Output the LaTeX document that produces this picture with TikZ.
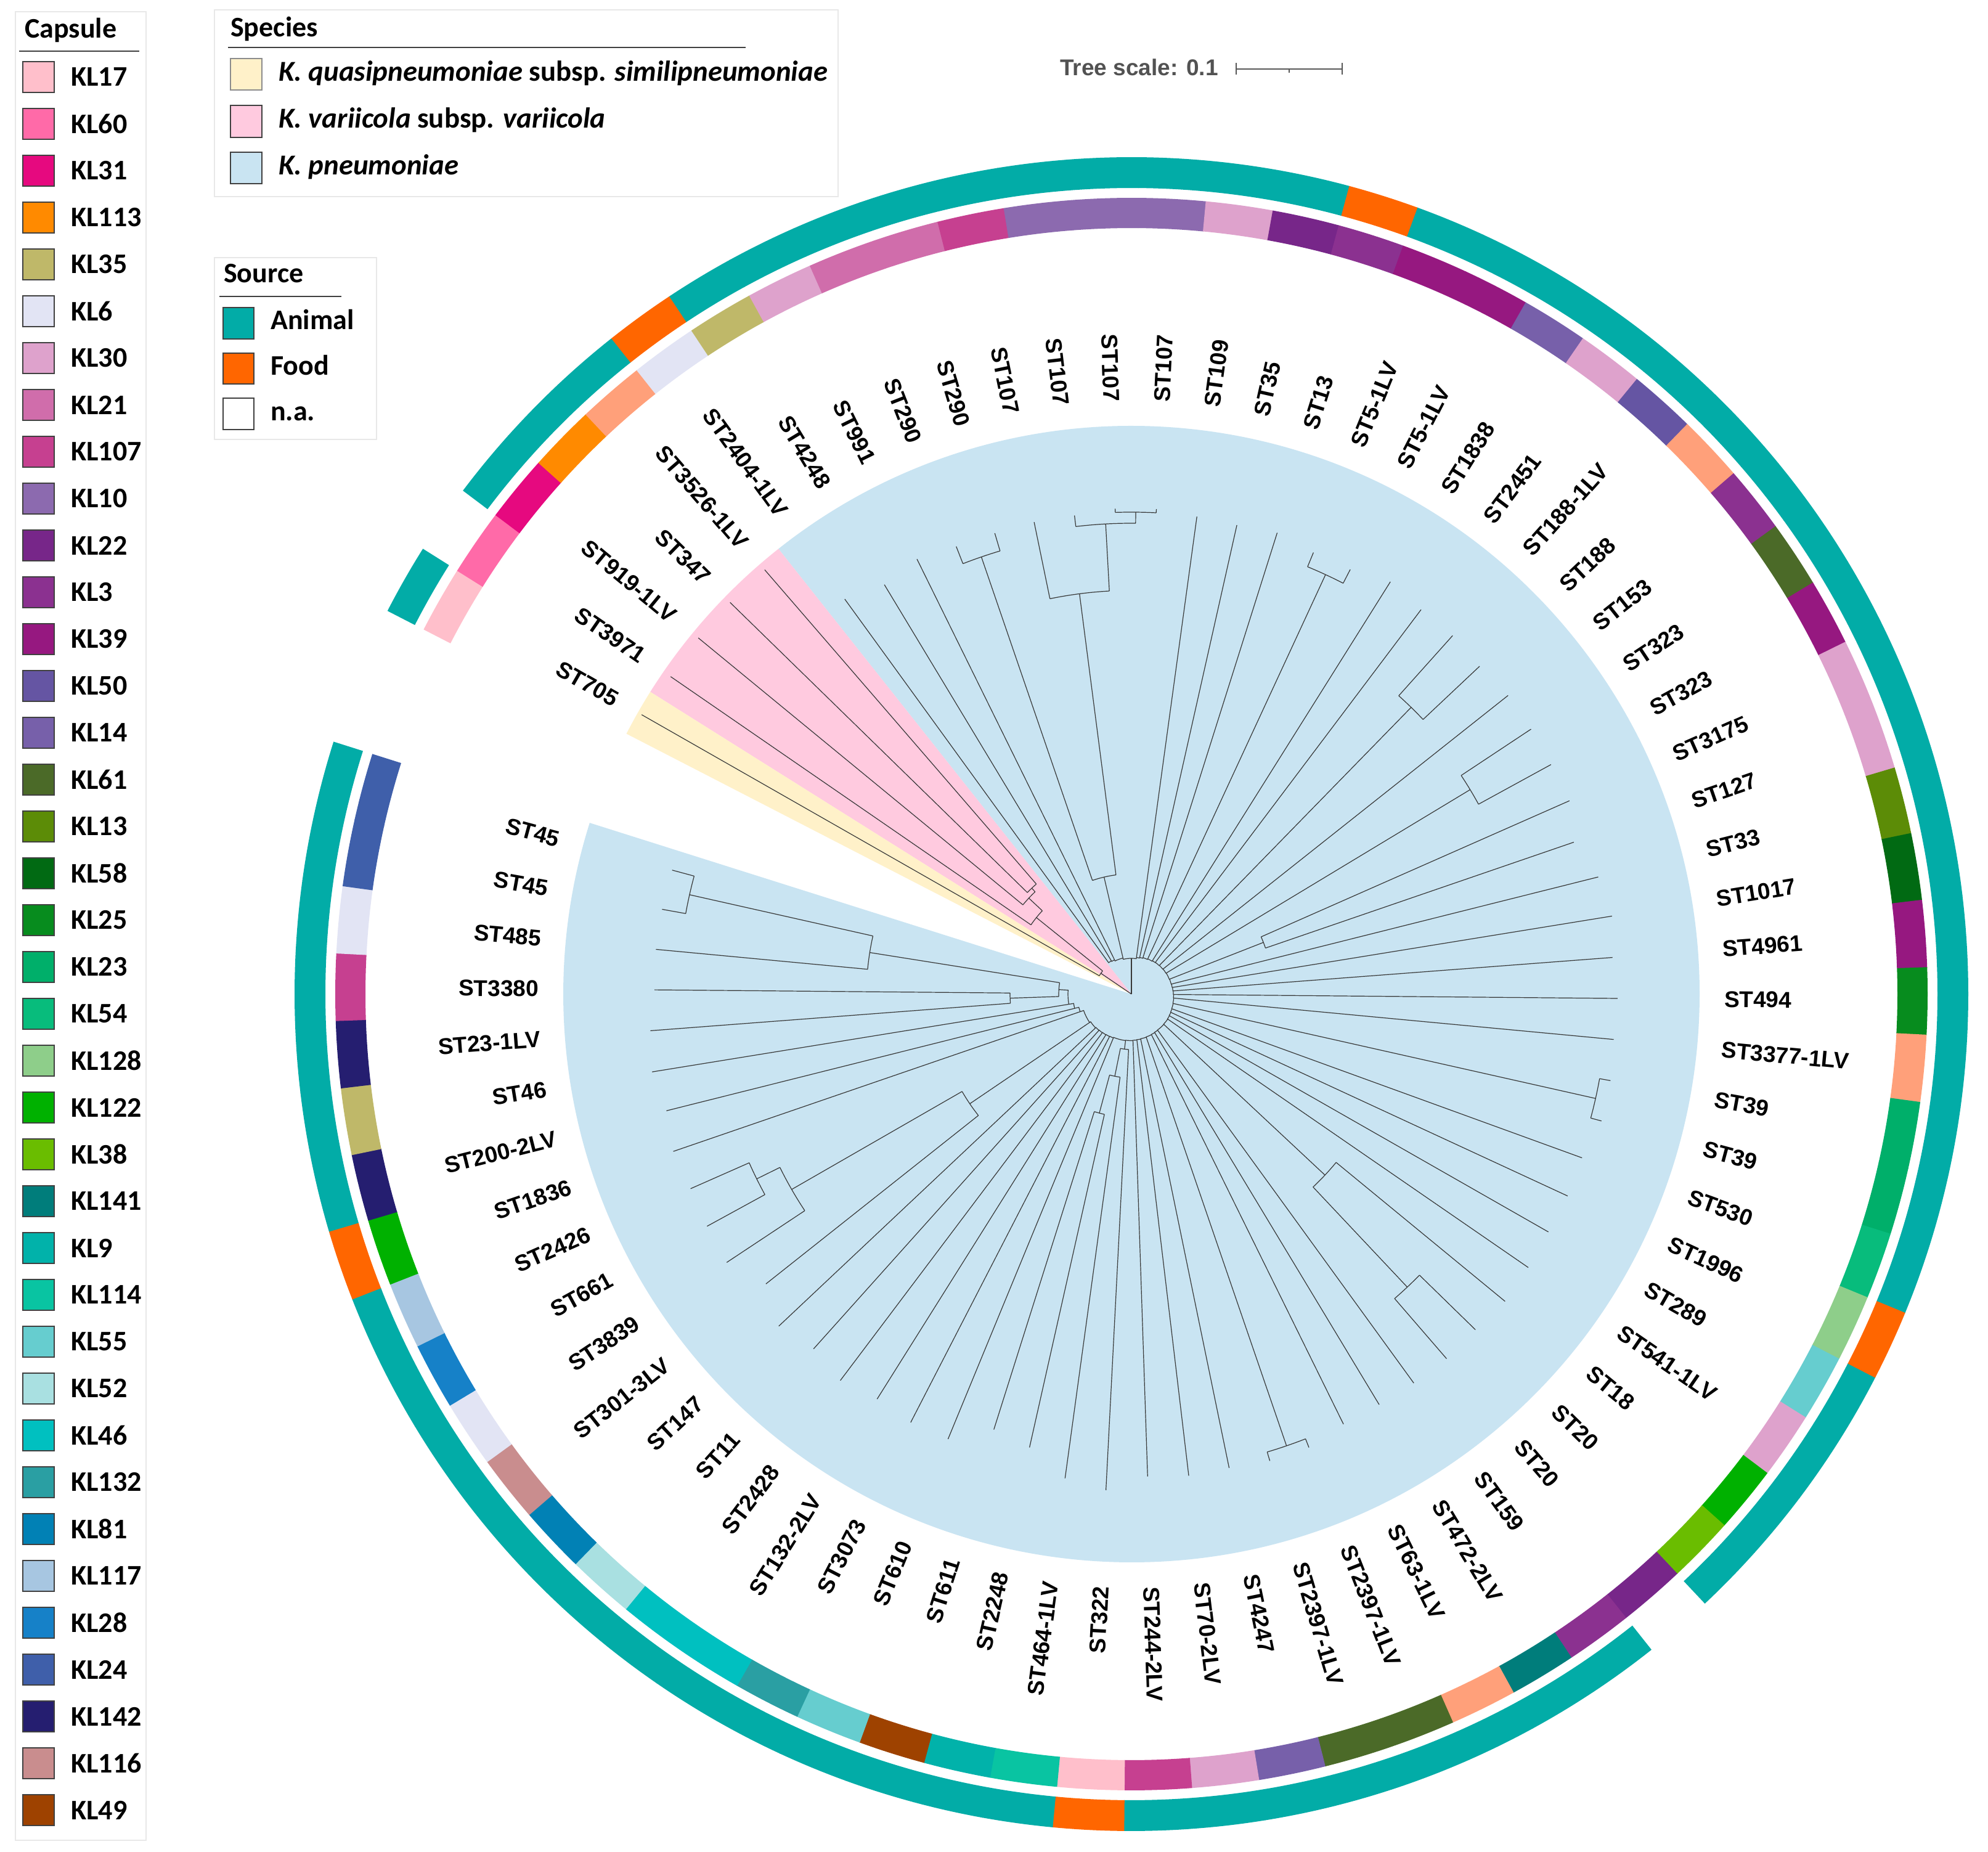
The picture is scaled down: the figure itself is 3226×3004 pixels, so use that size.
\documentclass[tikz,border=0pt]{standalone}
\usepackage{fontspec}
\usetikzlibrary{calc}
\newfontfamily\arialf{Liberation Sans}
\newfontfamily\calf{Carlito}
\definecolor{KL17}{HTML}{FFBFCB}
\definecolor{KL60}{HTML}{FF6AA8}
\definecolor{KL31}{HTML}{E6097F}
\definecolor{KL113}{HTML}{FF8A00}
\definecolor{KL35}{HTML}{BFB869}
\definecolor{KL6}{HTML}{E2E4F4}
\definecolor{KL30}{HTML}{DEA2CC}
\definecolor{KL21}{HTML}{D06DAB}
\definecolor{KL107}{HTML}{C64090}
\definecolor{KL10}{HTML}{8C6AAF}
\definecolor{KL22}{HTML}{772689}
\definecolor{KL3}{HTML}{8B3190}
\definecolor{KL39}{HTML}{961880}
\definecolor{KL50}{HTML}{6555A3}
\definecolor{KL14}{HTML}{7760AA}
\definecolor{KL61}{HTML}{4B6A28}
\definecolor{KL13}{HTML}{5C8C07}
\definecolor{KL58}{HTML}{016A13}
\definecolor{KL25}{HTML}{078C1E}
\definecolor{KL23}{HTML}{00AF6A}
\definecolor{KL54}{HTML}{08BC7C}
\definecolor{KL128}{HTML}{8ECE8A}
\definecolor{KL122}{HTML}{00B100}
\definecolor{KL38}{HTML}{6ABD00}
\definecolor{KL141}{HTML}{007D7B}
\definecolor{KL9}{HTML}{01B2AA}
\definecolor{KL114}{HTML}{09C4A2}
\definecolor{KL55}{HTML}{66CDCF}
\definecolor{KL52}{HTML}{A9E0E1}
\definecolor{KL46}{HTML}{00C0C0}
\definecolor{KL132}{HTML}{2A9FA3}
\definecolor{KL81}{HTML}{0181B5}
\definecolor{KL117}{HTML}{A7C6E1}
\definecolor{KL28}{HTML}{1681C8}
\definecolor{KL24}{HTML}{3F5FAA}
\definecolor{KL142}{HTML}{251E70}
\definecolor{KL116}{HTML}{C98D8E}
\definecolor{KL49}{HTML}{9E4200}
\definecolor{SAL}{HTML}{FFA07A}
\definecolor{ANI}{HTML}{02ACA7}
\definecolor{FOOD}{HTML}{FF6600}
\definecolor{SPQ}{HTML}{FFF1C9}
\definecolor{SPV}{HTML}{FFCADF}
\definecolor{SPP}{HTML}{C9E4F2}
\newcommand\tstem[3]{\pgfmathsetmacro\tmpa{150.3-(#1-1)*4.86486}\draw[treeline] (\tmpa:#2pt) -- (\tmpa:#3pt);}
\newcommand\tarc[3]{\pgfmathsetmacro\tmpa{150.3-(#1-1)*4.86486}\pgfmathsetmacro\tmpb{150.3-(#2-1)*4.86486}\draw[treeline] (\tmpa:#3pt) arc[start angle=\tmpa, end angle=\tmpb, radius=#3pt];}
\newcommand\ringseg[4]{\pgfmathsetmacro\tmpa{150.3-(#1-1)*4.86486+2.45}\pgfmathsetmacro\tmpb{150.3-(#1-1)*4.86486-2.45}\fill[#4] (\tmpa:#2pt) arc[start angle=\tmpa,end angle=\tmpb,radius=#2pt] -- (\tmpb:#3pt) arc[start angle=\tmpb,end angle=\tmpa,radius=#3pt] -- cycle;}
\begin{document}
\begin{tikzpicture}[x=1pt,y=1pt,
  treeline/.style={line width=1.2pt, draw=black!78},
  legbox/.style={draw=black!9, line width=2pt, fill=white},
  sw/.style={draw=black!75, line width=1.2pt},
  lab/.style={inner sep=0pt, font=\arialf\bfseries\fontsize{37}{44}\selectfont}]
\useasboundingbox (0,0) rectangle (3226,3004);
\fill[white] (0,0) rectangle (3226,3004);
\begin{scope}[shift={(1836,1391)}]
% species wedges
\fill[SPP] (0,0) -- (128.41:922pt) arc[start angle=128.41, end angle=-197.54, radius=922pt] -- cycle;
\fill[SPV] (0,0) -- (147.87:922pt) arc[start angle=147.87, end angle=128.41, radius=922pt] -- cycle;
\fill[SPQ] (0,0) -- (152.73:922pt) arc[start angle=152.73, end angle=147.87, radius=922pt] -- cycle;
% capsule ring
\foreach \n/\c in {1/KL17,2/KL60,3/KL31,4/KL113,5/SAL,6/KL6,7/KL35,8/KL30,9/KL21,10/KL21,11/KL107,12/KL10,13/KL10,14/KL10,15/KL30,16/KL22,17/KL3,18/KL39,19/KL39,20/KL14,21/KL30,22/KL50,23/SAL,24/KL3,25/KL61,26/KL39,27/KL30,28/KL30,29/KL13,30/KL58,31/KL39,32/KL25,33/SAL,34/KL23,35/KL23,36/KL54,37/KL128,38/KL55,39/KL30,40/KL122,41/KL38,42/KL22,43/KL3,44/KL141,45/SAL,46/KL61,47/KL61,48/KL14,49/KL30,50/KL107,51/KL17,52/KL114,53/KL9,54/KL49,55/KL55,56/KL132,57/KL46,58/KL46,59/KL52,60/KL81,61/KL116,62/KL6,63/KL28,64/KL117,65/KL122,66/KL142,67/KL35,68/KL142,69/KL107,70/KL6,71/KL24,72/KL24}{\ringseg{\n}{1243}{1292}{\c}}
% source ring
\foreach \n in {1,3,4,5,7,8,...,16,18,19,...,36,38,39,40,41,43,44,...,50,52,53,...,64,66,67,...,72}{\ringseg{\n}{1308}{1358}{ANI}}
\foreach \n in {6,17,37,51,65}{\ringseg{\n}{1308}{1358}{FOOD}}
% ---------- tree ----------
\tstem{1.9375}{0}{60}
\tarc{1}{2.875}{60}
\tstem{1}{60}{915}
\tstem{2.875}{60}{198}
\tarc{2}{3.75}{198}
\tstem{2}{198}{908}
\tstem{3.75}{198}{228}
\tarc{3}{4.5}{228}
\tstem{3}{228}{910}
\tstem{4.5}{228}{236}
\tarc{4}{5}{236}
\tstem{4}{236}{910}
\tstem{5}{236}{910}
\tstem{13.395}{0}{58}
\foreach \i/\r [remember=\i as \li (initially 13.395), remember=\r as \lr (initially 58)] in {10.6875/60, 8/62, 7/63, 6/64}{
  \pgfmathsetmacro\aa{150.3-(\li-1)*4.86486}
  \pgfmathsetmacro\ab{150.3-(\i-1)*4.86486}
  \draw[treeline] (\aa:\lr pt) arc[start angle=\aa, end angle=\ab, radius=\lr pt] -- (\ab:\r pt);
}
\foreach \i/\r [remember=\i as \li (initially 13.395), remember=\r as \lr (initially 58)] in {15/60, 16/61, 17/62, 18.5/63, 20/64, 21/64.5, 22.5/65, 24/65.5, 25.5/66, 27.5/66.5, 29/67, 30/67.5, 31/68, 32/68.5, 33/69, 34.5/69.5, 36/70, 37/70.5, 38/71, 39/71.5, 40.75/72, 43/72.5, 44/73, 45/73.5, 46.5/74, 48/74.5, 49/75, 50/75.5, 51.875/76, 55/77, 56/77.5, 57/78, 58/78.5, 59/79, 60/80, 61.875/82, 65/88, 66/95, 67/103, 69.625/112}{
  \pgfmathsetmacro\aa{150.3-(\li-1)*4.86486}
  \pgfmathsetmacro\ab{150.3-(\i-1)*4.86486}
  \draw[treeline] (\aa:\lr pt) arc[start angle=\aa, end angle=\ab, radius=\lr pt] -- (\ab:\r pt);
}
\tstem{10.6875}{60}{195}
\tarc{9.5}{11.875}{195}
\tstem{9.5}{195}{750}
\tarc{9}{10}{750}
\tstem{9}{750}{780}
\tstem{10}{750}{780}
\tstem{11.875}{195}{655}
\tarc{11}{12.75}{655}
\tstem{11}{655}{782}
\tstem{12.75}{655}{764}
\tarc{12}{13.5}{764}
\tstem{12}{764}{782}
\tstem{13.5}{764}{782}
\tarc{13}{14}{782}
\tstem{13}{782}{788}
\tstem{14}{782}{788}
\tstem{8}{62}{787}
\tstem{7}{63}{776}
\tstem{6}{64}{792}
\tstem{15}{60}{782}
\tstem{16}{61}{780}
\tstem{17}{62}{785}
\tstem{18.5}{63}{750}
\tarc{18}{19}{750}
\tstem{18}{750}{775}
\tstem{19}{750}{775}
\tstem{20}{64}{790}
\tstem{21}{64.5}{781}
\tstem{22.5}{65}{650}
\tarc{22}{23}{650}
\tstem{22}{650}{781}
\tstem{23}{650}{776}
\tstem{24}{65.5}{780}
\tstem{25.5}{66}{642}
\tarc{25}{26}{642}
\tstem{25}{642}{778}
\tstem{26}{642}{776}
\tstem{27.5}{66.5}{230}
\tarc{27}{28}{230}
\tstem{27}{230}{777}
\tstem{28}{230}{759}
\tstem{29}{67}{781}
\tstem{30}{67.5}{790}
\tstem{31}{68}{783}
\tstem{32}{68.5}{789}
\tstem{33}{69}{786}
\tstem{34.5}{69.5}{772}
\tarc{34}{35}{772}
\tstem{34}{772}{790}
\tstem{35}{772}{790}
\tstem{36}{70}{778}
\tstem{37}{70.5}{780}
\tstem{38}{71}{779}
\tstem{39}{71.5}{782}
\tstem{40.75}{72}{430}
\tarc{40}{41.5}{430}
\tstem{40}{430}{785}
\tstem{41.5}{430}{653}
\tarc{41}{42}{653}
\tstem{41}{653}{780}
\tstem{42}{653}{782}
\tstem{43}{72.5}{780}
\tstem{44}{73}{778}
\tstem{45}{73.5}{778}
\tstem{46.5}{74}{775}
\tarc{46}{47}{775}
\tstem{46}{775}{790}
\tstem{47}{775}{790}
\tstem{48}{74.5}{785}
\tstem{49}{75}{787}
\tstem{50}{75.5}{783}
\tstem{51.875}{76}{90}
\tarc{51}{52.75}{90}
\tstem{51}{90}{806}
\tstem{52.75}{90}{136}
\tarc{52}{53.5}{136}
\tstem{52}{136}{793}
\tstem{53.5}{136}{200}
\tarc{53}{54}{200}
\tstem{53}{200}{754}
\tstem{54}{200}{741}
\tstem{55}{77}{781}
\tstem{56}{77.5}{782}
\tstem{57}{78}{776}
\tstem{58}{78.5}{785}
\tstem{59}{79}{773}
\tstem{60}{80}{786}
\tstem{61.875}{82}{317}
\tarc{61}{62.75}{317}
\tstem{61}{317}{757}
\tstem{62.75}{317}{636}
\tarc{62}{63.5}{636}
\tstem{62}{636}{788}
\tstem{63.5}{636}{678}
\tarc{63}{64}{678}
\tstem{63}{678}{785}
\tstem{64}{678}{782}
\tstem{65}{88}{786}
\tstem{66}{95}{778}
\tstem{67}{103}{788}
\tstem{69.625}{112}{118}
\tarc{68.5}{70.75}{118}
\tstem{68.5}{118}{197}
\tarc{68}{69}{197}
\tstem{68}{197}{783}
\tstem{69}{197}{774}
\tstem{70.75}{118}{430}
\tarc{70}{71.5}{430}
\tstem{70}{430}{775}
\tstem{71.5}{430}{735}
\tarc{71}{72}{735}
\tstem{71}{735}{774}
\tstem{72}{735}{772}
% ---------- labels ----------
\foreach \n/\t in {1/ST705,2/ST3971,3/ST919-1LV,4/ST347,5/ST3526-1LV,6/ST2404-1LV,7/ST4248,8/ST991,9/ST290,10/ST290,11/ST107,12/ST107,13/ST107,14/ST107,15/ST109,16/ST35,17/ST13,18/ST5-1LV,19/ST5-1LV,20/ST1838,21/ST2451,22/ST188-1LV,23/ST188,24/ST153,25/ST323,26/ST323,27/ST3175,28/ST127,29/ST33,30/ST1017,31/ST4961,32/ST494,33/ST3377-1LV,34/ST39,35/ST39,36/ST530,37/ST1996,38/ST289,39/ST541-1LV,40/ST18,41/ST20,42/ST20,43/ST159,44/ST472-2LV,45/ST63-1LV,46/ST2397-1LV,47/ST2397-1LV,48/ST4247,49/ST70-2LV,50/ST244-2LV,51/ST322,52/ST464-1LV,53/ST2248,54/ST611,55/ST610,56/ST3073,57/ST132-2LV,58/ST2428,59/ST11,60/ST147,61/ST301-3LV,62/ST3839,63/ST661,64/ST2426,65/ST1836,66/ST200-2LV,67/ST46,68/ST23-1LV,69/ST3380,70/ST485,71/ST45,72/ST45}{
  \pgfmathsetmacro\a{150.3-(\n-1)*4.86486}
  \pgfmathsetmacro\b{\a+180}
  \pgfmathtruncatemacro\isl{(\a > 90) || (\a < -90)}
  \ifnum\isl=1
    \node[lab, anchor=east, rotate=\b] (L\n) at (\a:962pt) {\t};
  \else
    \node[lab, anchor=west, rotate=\a] (L\n) at (\a:962pt) {\t};
  \fi
}
\end{scope}
% ---------- Capsule legend ----------
\draw[legbox] (25,18) rectangle (237,2985);
\node[anchor=base west, inner sep=0pt] (capt) at (40,2942) {\calf\bfseries\fontsize{46}{50}\selectfont Capsule};
\draw[black!75, line width=1.5pt] (31,2921) -- (226,2921);
\foreach \k [count=\i from 0] in {KL17,KL60,KL31,KL113,KL35,KL6,KL30,KL21,KL107,KL10,KL22,KL3,KL39,KL50,KL14,KL61,KL13,KL58,KL25,KL23,KL54,KL128,KL122,KL38,KL141,KL9,KL114,KL55,KL52,KL46,KL132,KL81,KL117,KL28,KL24,KL142,KL116,KL49}{
  \pgfmathsetmacro\yc{2879-76*\i}
  \filldraw[fill=\k, sw] (37,\yc-25) rectangle (88,\yc+25);
  \node[anchor=west, inner sep=0pt, font=\calf\bfseries\fontsize{46}{50}\selectfont] (k\i) at (115,\yc) {\k};
}
% ---------- Species legend ----------
\draw[legbox] (348,2685) rectangle (1360,2988);
\node[anchor=base west, inner sep=0pt] (spt) at (374,2944) {\calf\bfseries\fontsize{46}{50}\selectfont Species};
\draw[black!75, line width=1.5pt] (370,2927) -- (1210,2927);
\filldraw[fill=SPQ, sw, draw=black!45] (374,2858) rectangle (425,2909);
\filldraw[fill=SPV, sw] (374,2781) rectangle (425,2833);
\filldraw[fill=SPP, sw] (374,2706) rectangle (425,2757);
\node[anchor=base west, inner sep=0pt] (sp1) at (452,2872) {\calf\bfseries\fontsize{46.8}{50}\selectfont\itshape K. quasipneumoniae\upshape{} subsp. \itshape similipneumoniae};
\node[anchor=base west, inner sep=0pt] (sp2) at (452,2796) {\calf\bfseries\fontsize{46.8}{50}\selectfont\itshape K. variicola\upshape{} subsp. \itshape variicola};
\node[anchor=base west, inner sep=0pt] (sp3) at (452,2720) {\calf\bfseries\fontsize{46.8}{50}\selectfont\itshape K. pneumoniae};
% ---------- Source legend ----------
\draw[legbox] (348,2291) rectangle (611,2586);
\node[anchor=base west, inner sep=0pt] (sot) at (363,2545) {\calf\bfseries\fontsize{46}{50}\selectfont Source};
\draw[black!75, line width=1.5pt] (356,2523) -- (554,2523);
\filldraw[fill=ANI, sw] (362,2454) rectangle (412,2505);
\filldraw[fill=FOOD, sw] (362,2381) rectangle (412,2431);
\filldraw[fill=white, sw] (362,2307) rectangle (412,2358);
\node[anchor=base west, inner sep=0pt] (so1) at (439,2469) {\calf\bfseries\fontsize{46}{50}\selectfont Animal};
\node[anchor=base west, inner sep=0pt] (so2) at (439,2395) {\calf\bfseries\fontsize{46}{50}\selectfont Food};
\node[anchor=base west, inner sep=0pt] (so3) at (439,2321) {\calf\bfseries\fontsize{46}{50}\selectfont n.a.};
% ---------- Tree scale ----------
\node[anchor=base west, inner sep=0pt, text=black!68, font=\arialf\bfseries\fontsize{37}{44}\selectfont] (ts) at (1720,2881) {Tree scale: 0.1};
\coordinate (sbA) at (2006,2892);
\coordinate (sbB) at (2178,2892);
\coordinate (sbM) at (2092,2892);
\draw[black!66, line width=2.2pt] (sbA) -- (sbB);
\draw[black!66, line width=2.2pt] ([yshift=-9pt]sbA) -- ([yshift=10pt]sbA);
\draw[black!66, line width=2.2pt] ([yshift=-9pt]sbB) -- ([yshift=10pt]sbB);
\draw[black!66, line width=1.8pt] (sbM) -- ([yshift=-6pt]sbM);
\end{tikzpicture}
\end{document}
